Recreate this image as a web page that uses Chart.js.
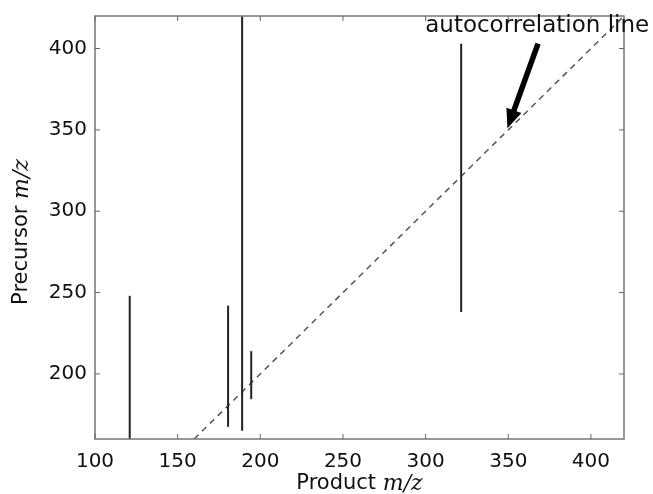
<!DOCTYPE html>
<html>
<head>
<meta charset="utf-8">
<script src="https://cdn.jsdelivr.net/npm/chart.js@4/dist/chart.umd.min.js"></script>
<style>
  html, body { margin: 0; padding: 0; background: #fff; }
  #wrap { width: 653px; height: 494px; }
</style>
</head>
<body>
<div id="wrap"><canvas id="chart" width="653" height="494"></canvas></div>
<script>
// product m/z of each vertical trace, with its precursor range
const peakX = [121, 180.5, 189, 194.5, 321.5];
const peakLow = [160, 167.5, 165, 184.5, 238];
const peakHigh = [248, 242, 425, 214, 403];

// y = x reference line
const diagX = [160, 420];
const diagY = [160, 420];

const xTicks = [100, 150, 200, 250, 300, 350, 400];
const yTicks = [200, 250, 300, 350, 400];

// annotation: text anchor + arrow start/end in data units
const noteText = "autocorrelation line";
const noteAt = [367.5, 414];
const arrowFrom = [368, 403];
const arrowTo = [349.5, 351];

const FONT = "DejaVu Sans";

const datasets = peakX.map((x, i) => ({
  data: [{ x: x, y: peakLow[i] }, { x: x, y: peakHigh[i] }],
  borderColor: "#222",
  borderWidth: 2,
  pointRadius: 0
}));
datasets.push({
  data: diagX.map((x, i) => ({ x: x, y: diagY[i] })),
  borderColor: "#555",
  borderWidth: 1.5,
  borderDash: [6, 5],
  pointRadius: 0
});

const decor = {
  id: "decor",
  afterDraw(chart) {
    const ctx = chart.ctx;
    const a = chart.chartArea;
    const xs = chart.scales.x, ys = chart.scales.y;
    ctx.save();
    // frame
    ctx.strokeStyle = "#777";
    ctx.lineWidth = 1.5;
    ctx.strokeRect(a.left, a.top, a.right - a.left, a.bottom - a.top);
    // inward ticks on all sides
    ctx.lineWidth = 1;
    ctx.strokeStyle = "#666";
    ctx.beginPath();
    xTicks.forEach(v => {
      const px = xs.getPixelForValue(v);
      ctx.moveTo(px, a.bottom); ctx.lineTo(px, a.bottom - 5);
      ctx.moveTo(px, a.top); ctx.lineTo(px, a.top + 5);
    });
    yTicks.forEach(v => {
      const py = ys.getPixelForValue(v);
      ctx.moveTo(a.left, py); ctx.lineTo(a.left + 5, py);
      ctx.moveTo(a.right, py); ctx.lineTo(a.right - 5, py);
    });
    ctx.stroke();

    // arrow
    const x1 = xs.getPixelForValue(arrowFrom[0]), y1 = ys.getPixelForValue(arrowFrom[1]);
    const x2 = xs.getPixelForValue(arrowTo[0]), y2 = ys.getPixelForValue(arrowTo[1]);
    const ang = Math.atan2(y2 - y1, x2 - x1);
    const head = 19, half = 8;
    const c = Math.cos(ang), s = Math.sin(ang);
    ctx.strokeStyle = "#000";
    ctx.fillStyle = "#000";
    ctx.lineWidth = 5.5;
    ctx.beginPath();
    ctx.moveTo(x1, y1);
    ctx.lineTo(x2 - c * head * 0.8, y2 - s * head * 0.8);
    ctx.stroke();
    ctx.beginPath();
    ctx.moveTo(x2, y2);
    ctx.lineTo(x2 - head * c + half * s, y2 - head * s - half * c);
    ctx.lineTo(x2 - head * c - half * s, y2 - head * s + half * c);
    ctx.closePath();
    ctx.fill();

    // annotation text
    ctx.font = "23px '" + FONT + "'";
    ctx.textAlign = "center";
    ctx.textBaseline = "middle";
    ctx.fillStyle = "#111";
    ctx.fillText(noteText, xs.getPixelForValue(noteAt[0]), ys.getPixelForValue(noteAt[1]));

    // axis titles with italic m/z
    const drawMixed = (parts, cx, cy, rot) => {
      ctx.save();
      ctx.translate(cx, cy);
      ctx.rotate(rot);
      let total = 0;
      parts.forEach(p => { ctx.font = p[1]; total += ctx.measureText(p[0]).width; });
      let pos = -total / 2;
      ctx.textAlign = "left";
      ctx.textBaseline = "middle";
      parts.forEach(p => {
        ctx.font = p[1];
        ctx.fillText(p[0], pos, 0);
        pos += ctx.measureText(p[0]).width;
      });
      ctx.restore();
    };
    const normal = "21px '" + FONT + "'";
    const ital = "italic 22px 'DejaVu Serif'";
    drawMixed([["Product ", normal], ["m/z", ital]], (a.left + a.right) / 2, 484, 0);
    drawMixed([["Precursor ", normal], ["m/z", ital]], 22, 232, -Math.PI / 2);
    ctx.restore();
  }
};

new Chart(document.getElementById("chart"), {
  type: "line",
  data: { datasets: datasets },
  options: {
    responsive: false,
    animation: false,
    layout: { padding: { top: 16, right: 29, left: 0, bottom: 0 } },
    plugins: { legend: { display: false }, tooltip: { enabled: false } },
    scales: {
      x: {
        type: "linear",
        min: 100,
        max: 420,
        grid: { display: false, drawTicks: false },
        border: { display: false },
        afterBuildTicks: s => { s.ticks = xTicks.map(v => ({ value: v })); },
        afterFit: s => { s.height = 55; s.paddingLeft = 0; s.paddingRight = 0; },
        ticks: { color: "#111", padding: 11, maxRotation: 0, font: { family: FONT, size: 20 } }
      },
      y: {
        type: "linear",
        min: 160,
        max: 420,
        grid: { display: false, drawTicks: false },
        border: { display: false },
        afterBuildTicks: s => { s.ticks = yTicks.map(v => ({ value: v })); },
        afterFit: s => { s.width = 95; s.paddingTop = 0; s.paddingBottom = 0; },
        ticks: { color: "#111", padding: 8, font: { family: FONT, size: 20 } }
      }
    }
  },
  plugins: [decor]
});
</script>
</body>
</html>
